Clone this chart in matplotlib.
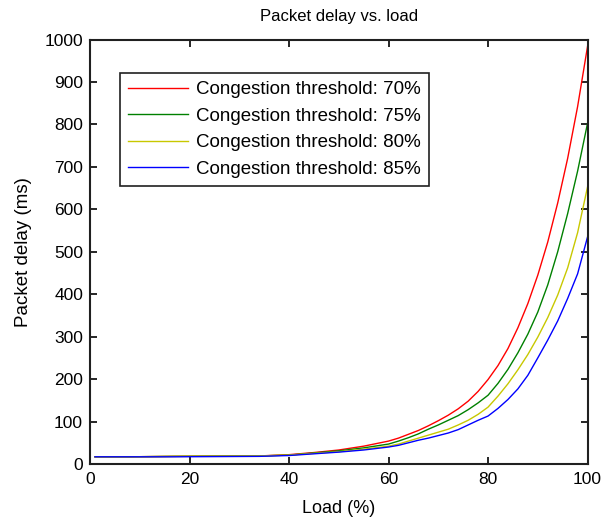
import matplotlib
matplotlib.use("Agg")
import matplotlib.pyplot as plt

plt.rcParams.update({
    "font.family": ["Liberation Sans", "DejaVu Sans"],
    "font.size": 12,
    "xtick.direction": "in",
    "ytick.direction": "in",
})

# load (%) sample points
load = [1, 8, 17, 34, 40, 45, 50, 55, 60, 62, 64, 66, 68, 70, 72, 74, 76, 78,
        80, 82, 84, 86, 88, 90, 92, 94, 96, 98, 100]

# packet delay (ms) for each congestion threshold
delay_70 = [17, 17, 18, 19, 22, 27, 33, 42, 54, 61, 70, 79, 90, 102, 115, 130, 148, 171,
            199, 232, 272, 321, 378, 445, 523, 615, 720, 842, 984]
delay_75 = [17, 17, 18, 19, 21, 26, 31, 38, 47, 54, 62, 71, 82, 92, 103, 114, 128, 144,
            162, 190, 223, 262, 306, 358, 422, 500, 590, 690, 803]
delay_80 = [17, 17, 18, 19, 21, 25, 29, 35, 42, 47, 54, 61, 68, 75, 82, 92, 103, 117,
            134, 160, 189, 222, 258, 299, 345, 398, 462, 545, 653]
delay_85 = [17, 17, 17, 18, 20, 24, 28, 33, 40, 44, 50, 56, 61, 67, 73, 81, 92, 103,
            113, 131, 152, 177, 209, 250, 292, 337, 390, 448, 535]

labels = [
    "Congestion threshold: 70%",
    "Congestion threshold: 75%",
    "Congestion threshold: 80%",
    "Congestion threshold: 85%",
]
colors = ["#ff0000", "#008000", "#c8c800", "#0000ff"]

fig = plt.figure(figsize=(6.02, 5.17), dpi=100)
ax = fig.add_axes([0.1495, 0.1025, 0.8265, 0.8210])

for series, label, color in zip([delay_70, delay_75, delay_80, delay_85], labels, colors):
    ax.plot(load, series, color=color, linewidth=1.0, label=label)

ax.set_xlim(0, 100)
ax.set_ylim(0, 1000)
ax.set_xticks(range(0, 101, 20))
ax.set_yticks(range(0, 1001, 100))
ax.tick_params(top=True, right=True, length=5, width=1.2, labelsize=12.5)
ax.tick_params(axis="x", pad=6)
ax.tick_params(axis="y", pad=5)
for spine in ax.spines.values():
    spine.set_linewidth(1.5)
    spine.set_color("#202020")

ax.set_title("Packet delay vs. load", fontsize=12, pad=13)
ax.set_xlabel("Load (%)", fontsize=13, labelpad=9)
ax.set_ylabel("Packet delay (ms)", fontsize=13.5, labelpad=9)

leg = ax.legend(loc="upper left", bbox_to_anchor=(0.06, 0.922), borderaxespad=0,
                fancybox=False, edgecolor="#202020", framealpha=1, fontsize=13.5,
                handlelength=3.2, labelspacing=0.5, borderpad=0.45, handletextpad=0.4)
leg.get_frame().set_linewidth(1.2)

fig.savefig("out.png", dpi=100)
